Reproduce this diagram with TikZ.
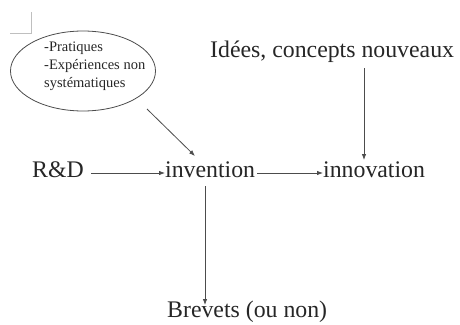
\documentclass[tikz,border=0pt]{standalone}
\usepackage{fontspec}
\setmainfont{Liberation Serif}
\usetikzlibrary{arrows.meta,shapes.geometric}
\begin{document}
\begin{tikzpicture}[x=1pt,y=-1pt,
  lbl/.style={inner sep=0pt,anchor=base west,font=\fontsize{23.8}{26}\selectfont,text=black!85},
  small/.style={font=\fontsize{14.5}{18}\selectfont,align=left,text=black!85,inner sep=0pt,anchor=north west},
  arr/.style={draw=black!70,line width=0.8pt,-{Latex[length=6pt,width=4.5pt]}},
  crop/.style={draw=black!25,line width=0.6pt}]
\useasboundingbox (0,0) rectangle (460,324);
% crop mark
\draw[crop] (31,12) -- (31,33) -- (10,33);
% ellipse
\node[draw=black!70,line width=0.8pt,ellipse,minimum width=145pt,minimum height=80pt,inner sep=0pt] (ell) at (83,71) {};
\node[small] (elltxt) at (44,42) {-Pratiques\\-Expériences non\\systématiques};
% main nodes
\node[lbl] (rd) at (32,177) {R\&D};
\node[lbl] (inv) at (165,177) {invention};
\node[lbl] (inn) at (323,177) {innovation};
\node[lbl] (idees) at (210,57) {Idées, concepts nouveaux};
\node[lbl] (brev) at (167,317) {Brevets (ou non)};
\coordinate (ellend) at (147,109);
\coordinate (invtop) at (195,156);
\coordinate (a1s) at (91,173);
\coordinate (a2s) at (257,173);
\coordinate (a3s) at (364,68);
\coordinate (a3e) at (364,160);
\coordinate (a4s) at (205,186);
\coordinate (a4e) at (205,305);
% arrows
\draw[arr] (a1s) -- (a1s -| inv.west);
\draw[arr] (a2s) -- (a2s -| inn.west);
\draw[arr] (a3s) -- (a3e);
\draw[arr] (ellend) -- (invtop);
\draw[arr] (a4s) -- (a4e);
\end{tikzpicture}
\end{document}
